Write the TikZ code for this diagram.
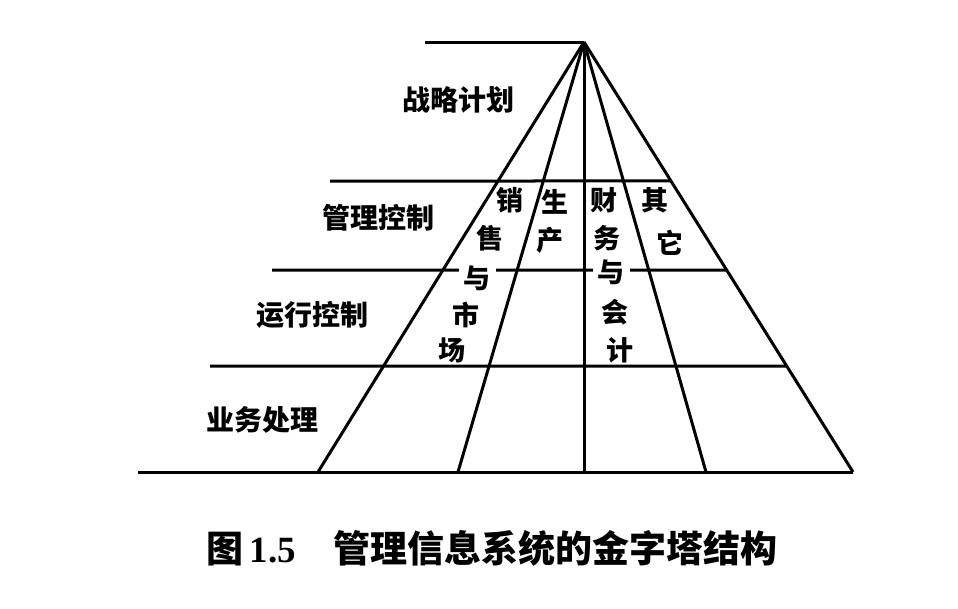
\documentclass[tikz,border=0pt]{standalone}
\usepackage{fontspec}
\setmainfont{Liberation Serif}
\newfontfamily\cjk{Noto Sans CJK SC}
\usetikzlibrary{calc}

\begin{document}
\begin{tikzpicture}
	[x=1pt,y=-1pt,
	edge/.style={line width=3pt},
	level/.style={font=\cjk\bfseries\fontsize{28}{28}\selectfont},
	cell/.style={font=\cjk\bfseries\fontsize{27}{27}\selectfont, inner sep=1pt},
	gapcell/.style={cell,fill=white,inner xsep=5pt},]
	\useasboundingbox (0,0) rectangle (958,608);
	% apex and base points
	\coordinate (apex) at (584,42);
	\foreach \x [count=\i] in {318,458,584,706,853}
		\coordinate (b\i) at (\x,472);
	\foreach \i in {1,...,5}
		\draw[edge] (apex) -- (b\i);
	
	% layers
	\coordinate (top) at (425,42);
	\draw[edge] (top) -- (apex);
	\foreach \y/\l [count=\i] in {181/330,270/272,366/210}{
		\coordinate (l\i) at (\l,\y);
		\coordinate (r\i) at ($(apex)!{(\y-42)/430}!(b5)$);
		\draw[edge] (l\i) -- (r\i);
	}
	\coordinate (base) at (138,472);
	\draw[edge] (base) -- (b5);
	
	\node[level] (strat) at (458,100) {战略计划};
	\node[level] (mgmt) at (378,218) {管理控制};
	\node[level] (oper) at (312,315) {运行控制};
	\node[level] (trans) at (262,420) {业务处理};
	
	\node[cell] (sale1) at (510,200) {销};
	\node[cell] (sale2) at (490,238) {售};
	\node[gapcell] (sale3) at (477,278) {与};
	\node[cell] (sale4) at (466,315) {市};
	\node[cell] (sale5) at (452,350) {场};
	\node[cell] (prod1) at (555,202) {生};
	\node[cell] (prod2) at (550,240) {产};
	\node[cell] (fin1) at (604,200) {财};
	\node[cell] (fin2) at (607,238) {务};
	\node[gapcell] (fin3) at (611,272) {与};
	\node[cell] (fin4) at (615,312) {会};
	\node[cell] (fin5) at (620,350) {计};
	\node[cell] (misc1) at (655,200) {其};
	\node[cell] (misc2) at (670,243) {它};
	
	\node[font=\bfseries\fontsize{37}{37}\selectfont] (cap) at (492,548) {{\cjk 图}\,1.5\quad{\cjk 管理信息系统的金字塔结构}};
	
\end{tikzpicture}
\end{document}
